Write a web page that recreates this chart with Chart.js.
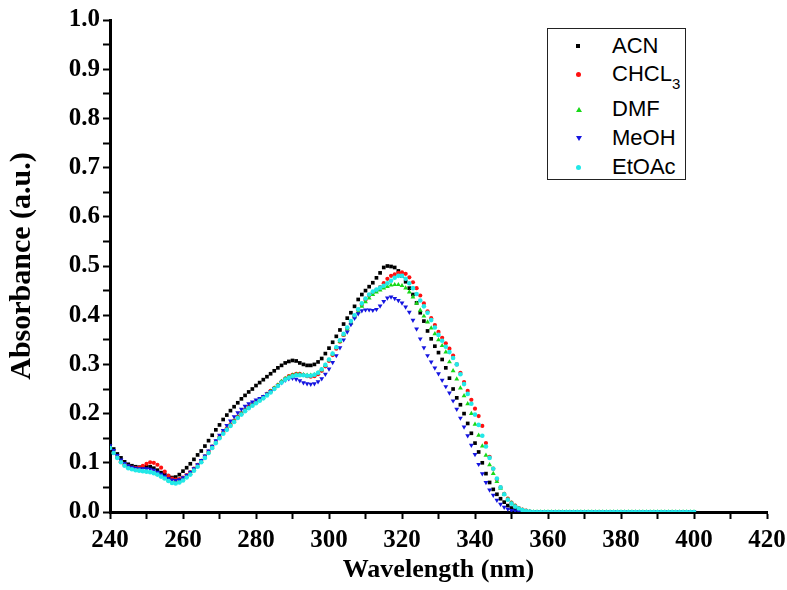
<!DOCTYPE html>
<html>
<head>
<meta charset="utf-8">
<script src="https://cdn.jsdelivr.net/npm/chart.js@4.4.1/dist/chart.umd.min.js"></script>
<style>
  body { margin: 0; background: #fff; }
  #wrap { position: relative; width: 787px; height: 590px; }
  #legend {
    position: absolute; left: 547px; top: 28px; width: 137px; height: 150px;
    border: 1px solid #222; background: #fff;
    font-family: "Liberation Sans", Arial, sans-serif; font-size: 22px; color: #000;
  }
  #legend .row { position: absolute; left: 0; height: 26px; line-height: 26px; }
  #legend .txt { position: absolute; left: 64px; white-space: nowrap; }
  #legend sub { font-size: 15px; vertical-align: -8px; line-height: 0; }
  #legend .mk { position: absolute; left: 28px; top: 11px; }
</style>
</head>
<body>
<div id="wrap">
  <canvas id="grafico" width="787" height="590"></canvas>
  <div id="legend"></div>
</div>
<script>
// longitud de onda (nm)
const wavelengths = [
  240,241,242,243,244,245,246,247,248,249,
  250,251,252,253,254,255,256,257,258,259,
  260,261,262,263,264,265,266,267,268,269,
  270,271,272,273,274,275,276,277,278,279,
  280,281,282,283,284,285,286,287,288,289,
  290,291,292,293,294,295,296,297,298,299,
  300,301,302,303,304,305,306,307,308,309,
  310,311,312,313,314,315,316,317,318,319,
  320,321,322,323,324,325,326,327,328,329,
  330,331,332,333,334,335,336,337,338,339,
  340,341,342,343,344,345,346,347,348,349,
  350,351,352,353,354,355,356,357,358,359,
  360,361,362,363,364,365,366,367,368,369,
  370,371,372,373,374,375,376,377,378,379,
  380,381,382,383,384,385,386,387,388,389,
  390,391,392,393,394,395,396,397,398,399,
  400
];

const acn = [
  0.138,0.128,0.118,0.110,0.102,0.097,0.094,0.092,0.091,0.091,
  0.092,0.092,0.089,0.085,0.080,0.076,0.072,0.070,0.071,0.076,
  0.083,0.090,0.098,0.107,0.116,0.124,0.134,0.145,0.156,0.167,
  0.177,0.188,0.197,0.206,0.214,0.222,0.230,0.237,0.244,0.250,
  0.257,0.263,0.269,0.275,0.281,0.287,0.293,0.298,0.303,0.306,
  0.308,0.307,0.303,0.300,0.298,0.298,0.300,0.305,0.312,0.322,
  0.333,0.345,0.357,0.370,0.382,0.394,0.405,0.418,0.432,0.442,
  0.450,0.458,0.466,0.476,0.486,0.497,0.500,0.499,0.497,0.490,
  0.480,0.468,0.455,0.442,0.425,0.405,0.388,0.368,0.352,0.337,
  0.324,0.310,0.293,0.272,0.250,0.232,0.218,0.200,0.180,0.160,
  0.140,0.122,0.100,0.078,0.060,0.046,0.036,0.027,0.020,0.013,
  0.008,0.005,0.003,0.002,0.001,0,0,0,0,0,
  0,0,0,0,0,0,0,0,0,0,
  0,0,0,0,0,0,0,0,0,0,
  0,0,0,0,0,0,0,0,0,0,
  0,0,0,0,0,0,0,0,0,0,
  0
];

const chcl3 = [
  0.130,0.120,0.111,0.103,0.097,0.093,0.090,0.089,0.090,0.094,
  0.098,0.101,0.100,0.096,0.090,0.082,0.074,0.068,0.066,0.067,
  0.070,0.075,0.081,0.088,0.096,0.104,0.113,0.123,0.133,0.143,
  0.153,0.162,0.170,0.178,0.186,0.194,0.201,0.208,0.214,0.219,
  0.224,0.229,0.234,0.240,0.246,0.252,0.258,0.265,0.271,0.276,
  0.279,0.281,0.281,0.279,0.276,0.275,0.276,0.280,0.287,0.296,
  0.307,0.319,0.332,0.346,0.360,0.373,0.386,0.398,0.410,0.421,
  0.431,0.440,0.446,0.451,0.457,0.465,0.474,0.480,0.483,0.486,
  0.487,0.484,0.477,0.467,0.455,0.440,0.424,0.408,0.394,0.380,
  0.366,0.354,0.343,0.332,0.318,0.300,0.283,0.264,0.246,0.228,
  0.210,0.195,0.175,0.140,0.112,0.088,0.066,0.050,0.037,0.027,
  0.019,0.013,0.008,0.005,0.003,0.001,0,0,0,0,
  0,0,0,0,0,0,0,0,0,0,
  0,0,0,0,0,0,0,0,0,0,
  0,0,0,0,0,0,0,0,0,0,
  0,0,0,0,0,0,0,0,0,0,
  0
];

const dmf = [
  0.132,0.122,0.112,0.103,0.096,0.091,0.088,0.086,0.085,0.084,
  0.083,0.082,0.080,0.077,0.073,0.069,0.065,0.062,0.061,0.063,
  0.067,0.072,0.078,0.086,0.094,0.103,0.112,0.122,0.132,0.142,
  0.152,0.161,0.169,0.177,0.185,0.193,0.200,0.207,0.213,0.218,
  0.223,0.228,0.233,0.239,0.245,0.252,0.258,0.265,0.271,0.275,
  0.278,0.280,0.280,0.279,0.278,0.278,0.279,0.283,0.289,0.298,
  0.309,0.321,0.334,0.347,0.360,0.372,0.384,0.396,0.407,0.418,
  0.427,0.435,0.442,0.447,0.451,0.455,0.458,0.461,0.462,0.462,
  0.460,0.455,0.447,0.437,0.424,0.410,0.398,0.386,0.374,0.362,
  0.350,0.338,0.325,0.305,0.287,0.270,0.252,0.236,0.220,0.200,
  0.178,0.156,0.134,0.115,0.096,0.078,0.062,0.048,0.036,0.026,
  0.018,0.012,0.007,0.004,0.002,0.001,0,0,0,0,
  0,0,0,0,0,0,0,0,0,0,
  0,0,0,0,0,0,0,0,0,0,
  0,0,0,0,0,0,0,0,0,0,
  0,0,0,0,0,0,0,0,0,0,
  0
];

const meoh = [
  0.135,0.125,0.115,0.106,0.099,0.094,0.091,0.089,0.088,0.088,
  0.088,0.087,0.085,0.081,0.077,0.073,0.068,0.065,0.064,0.066,
  0.070,0.075,0.081,0.088,0.096,0.105,0.114,0.124,0.134,0.145,
  0.156,0.166,0.176,0.185,0.194,0.202,0.209,0.215,0.220,0.224,
  0.228,0.231,0.235,0.240,0.245,0.251,0.257,0.263,0.268,0.271,
  0.272,0.270,0.267,0.263,0.261,0.260,0.261,0.265,0.271,0.280,
  0.291,0.304,0.318,0.334,0.350,0.366,0.381,0.394,0.403,0.409,
  0.411,0.411,0.410,0.412,0.419,0.428,0.435,0.437,0.434,0.430,
  0.425,0.417,0.406,0.390,0.372,0.352,0.334,0.318,0.305,0.293,
  0.281,0.268,0.255,0.242,0.226,0.209,0.191,0.173,0.155,0.136,
  0.117,0.097,0.078,0.060,0.045,0.034,0.024,0.016,0.010,0.006,
  0.003,0.002,0.001,0,0,0,0,0,0,0,
  0,0,0,0,0,0,0,0,0,0,
  0,0,0,0,0,0,0,0,0,0,
  0,0,0,0,0,0,0,0,0,0,
  0,0,0,0,0,0,0,0,0,0,
  0
];

const etoac = [
  0.130,0.120,0.110,0.101,0.094,0.089,0.087,0.085,0.084,0.083,
  0.082,0.081,0.079,0.076,0.072,0.068,0.063,0.059,0.058,0.060,
  0.064,0.070,0.076,0.084,0.092,0.101,0.110,0.120,0.130,0.140,
  0.150,0.159,0.167,0.175,0.183,0.191,0.198,0.205,0.211,0.216,
  0.221,0.226,0.231,0.237,0.243,0.250,0.256,0.263,0.269,0.273,
  0.276,0.278,0.278,0.278,0.277,0.277,0.279,0.283,0.290,0.299,
  0.310,0.322,0.335,0.349,0.362,0.375,0.388,0.400,0.412,0.424,
  0.434,0.442,0.448,0.452,0.456,0.460,0.465,0.470,0.476,0.480,
  0.480,0.474,0.465,0.455,0.443,0.430,0.418,0.405,0.390,0.375,
  0.360,0.348,0.336,0.325,0.313,0.300,0.280,0.260,0.240,0.220,
  0.198,0.177,0.155,0.133,0.110,0.088,0.068,0.050,0.036,0.025,
  0.017,0.011,0.007,0.004,0.002,0.001,0,0,0,0,
  0,0,0,0,0,0,0,0,0,0,
  0,0,0,0,0,0,0,0,0,0,
  0,0,0,0,0,0,0,0,0,0,
  0,0,0,0,0,0,0,0,0,0,
  0
];

const serie = [
  { nombre: "ACN",   html: "ACN",          datos: acn,   color: "#000000", forma: "rect",     radio: 2.6, giro: 0 },
  { nombre: "CHCL3", html: "CHCL<sub>3</sub>", datos: chcl3, color: "#ff1010", forma: "circle",   radio: 2.1, giro: 0 },
  { nombre: "DMF",   html: "DMF",          datos: dmf,   color: "#18d818", forma: "triangle", radio: 2.8, giro: 0 },
  { nombre: "MeOH",  html: "MeOH",         datos: meoh,  color: "#1515e0", forma: "triangle", radio: 2.8, giro: 180 },
  { nombre: "EtOAc", html: "EtOAc",        datos: etoac, color: "#22e8e8", forma: "circle",   radio: 2.3, giro: 0 }
];

const fuenteSerif = '"Liberation Serif", "Times New Roman", serif';

const ctx = document.getElementById("grafico");
new Chart(ctx, {
  type: "scatter",
  data: {
    datasets: serie.map((s, i) => ({
      label: s.nombre,
      data: wavelengths.map((w, k) => ({ x: w, y: s.datos[k] })),
      pointStyle: s.forma,
      rotation: s.giro,
      pointRadius: s.radio,
      pointBackgroundColor: s.color,
      pointBorderColor: s.color,
      pointBorderWidth: 0,
      showLine: false,
      order: serie.length - i
    }))
  },
  options: {
    responsive: false,
    animation: false,
    layout: { padding: { left: 0, right: 20, top: 20, bottom: 0 } },
    plugins: { legend: { display: false }, tooltip: { enabled: false } },
    scales: {
      x: {
        type: "linear",
        min: 240,
        max: 420,
        border: { display: true, color: "#000", width: 3 },
        grid: { drawOnChartArea: false, drawTicks: true, tickLength: 7, tickWidth: 2, tickColor: "#000" },
        ticks: {
          stepSize: 10,
          autoSkip: false,
          maxRotation: 0,
          color: "#000",
          padding: 7,
          font: { family: fuenteSerif, weight: "bold", size: 25 },
          callback: v => (v % 20 === 0 ? String(v) : "")
        },
        title: {
          display: true,
          text: "Wavelength (nm)",
          color: "#000",
          padding: { top: 11 },
          font: { family: fuenteSerif, weight: "bold", size: 26 }
        },
        afterFit: s => { s.height = 78; s.paddingRight = 0; s.paddingLeft = 0; }
      },
      y: {
        min: 0,
        max: 1,
        border: { display: true, color: "#000", width: 3 },
        grid: { drawOnChartArea: false, drawTicks: true, tickLength: 7, tickWidth: 2, tickColor: "#000" },
        ticks: {
          stepSize: 0.05,
          autoSkip: false,
          color: "#000",
          padding: 3,
          font: { family: fuenteSerif, weight: "bold", size: 25 },
          callback: v => (Math.round(v * 100) % 10 === 0 ? v.toFixed(1) : "")
        },
        title: {
          display: true,
          text: "Absorbance (a.u.)",
          color: "#000",
          padding: { bottom: 6 },
          font: { family: fuenteSerif, weight: "bold", size: 30 }
        },
        afterFit: s => { s.width = 110; }
      }
    }
  }
});

// leyenda en html para poder poner el subindice
const leyenda = document.getElementById("legend");
const filas = [4, 32, 67, 96, 125];
serie.forEach((s, i) => {
  const fila = document.createElement("div");
  fila.className = "row";
  fila.style.top = filas[i] + "px";
  const mk = document.createElement("span");
  mk.className = "mk";
  if (s.forma === "rect") {
    mk.style.cssText += `width:4px;height:4px;background:${s.color};`;
  } else if (s.forma === "circle") {
    mk.style.cssText += `width:5px;height:5px;border-radius:50%;background:${s.color};`;
  } else if (s.giro === 0) {
    mk.style.cssText += `width:0;height:0;border-left:3px solid transparent;border-right:3px solid transparent;border-bottom:5px solid ${s.color};`;
  } else {
    mk.style.cssText += `width:0;height:0;border-left:3px solid transparent;border-right:3px solid transparent;border-top:5px solid ${s.color};`;
  }
  const txt = document.createElement("span");
  txt.className = "txt";
  txt.innerHTML = s.html;
  fila.appendChild(mk);
  fila.appendChild(txt);
  leyenda.appendChild(fila);
});
</script>
</body>
</html>
